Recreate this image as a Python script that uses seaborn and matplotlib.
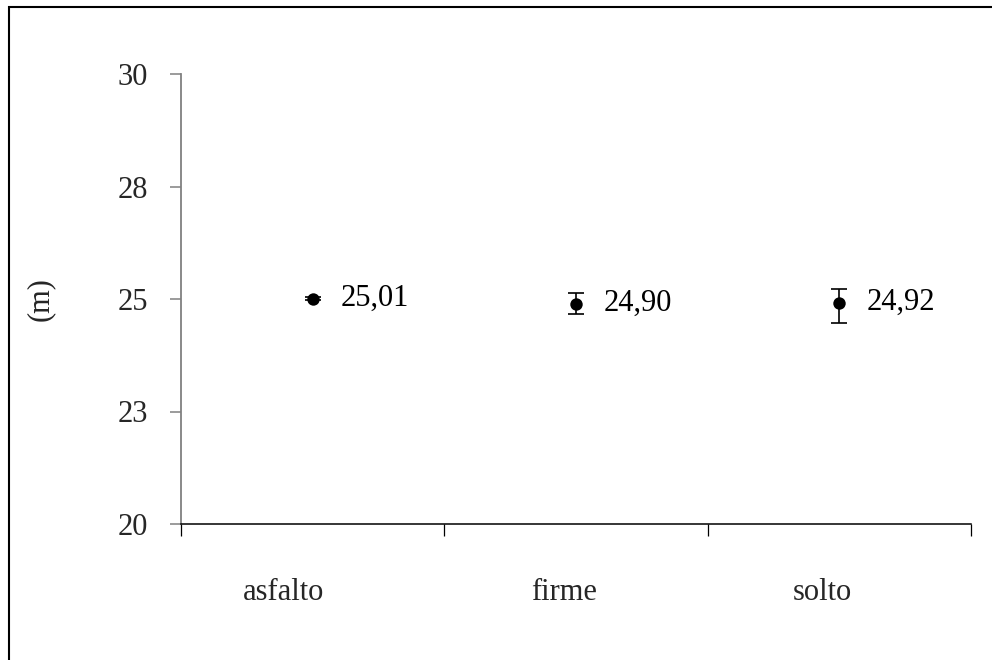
import matplotlib
matplotlib.use("Agg")
import matplotlib.pyplot as plt
import matplotlib.patches as mpatches
import matplotlib.transforms as mtransforms
import numpy as np
import pandas as pd
import seaborn as sns

# Surface types and mean distance (m) with error bar extents
categories = ["asfalto", "firme", "solto"]
means = [25.01, 24.90, 24.92]
err_lower = [0.03, 0.23, 0.45]
err_upper = [0.03, 0.23, 0.30]

# Y axis ticks and their rounded labels
y_ticks = [20, 22.5, 25, 27.5, 30]
y_tick_labels = ["20", "23", "25", "28", "30"]
y_label = "(m)"

FS = 22

sns.set_theme(style="white")
plt.rcParams["font.family"] = ["Liberation Serif", "DejaVu Serif"]

df = pd.DataFrame({"superficie": categories, "distancia": means})

fig = plt.figure(figsize=(9.92, 6.6), dpi=100)
ax = fig.add_axes([181 / 992, 1 - 524 / 660, 790 / 992, 450 / 660])

pos = np.arange(len(categories))
ax.errorbar(pos, means, yerr=[err_lower, err_upper], fmt="none",
            ecolor="black", elinewidth=1.2, capsize=6, capthick=1.2, zorder=2)
sns.scatterplot(data=df, x="superficie", y="distancia", ax=ax,
                color="black", s=80, edgecolor="black", linewidth=0, zorder=3,
                legend=False)

for i, v in enumerate(means):
    ax.annotate(f"{v:.2f}".replace(".", ","), (pos[i], v),
                xytext=(20, 0), textcoords="offset points",
                va="center", ha="left", fontsize=FS, color="black")

ax.set_xlim(-0.5, len(categories) - 0.5)
ax.set_ylim(y_ticks[0], y_ticks[-1])

ax.set_yticks(y_ticks)
ax.set_yticklabels(y_tick_labels, fontsize=FS)
ax.tick_params(axis="y", which="major", direction="out", length=8,
               width=1.1, color="#808080", pad=16, left=True)
ax.yaxis.get_major_ticks()[0].tick1line.set_color("black")

ax.set_xticks(pos)
ax.set_xticklabels(categories, fontsize=FS)
ax.set_xticks(np.arange(len(categories) + 1) - 0.5, minor=True)
ax.tick_params(axis="x", which="major", length=0, pad=39)
ax.tick_params(axis="x", which="minor", direction="out", length=8.6,
               width=0.9, color="black", bottom=True)

# Category labels sit slightly left of their slot centres
label_shift_px = [-29, -12, -17]
for lbl, dx in zip(ax.get_xticklabels(), label_shift_px):
    lbl.set_transform(lbl.get_transform() +
                      mtransforms.ScaledTranslation(dx / 100, 0, fig.dpi_scale_trans))

ax.set_xlabel("")
ax.set_ylabel(y_label, fontsize=FS)
ax.yaxis.set_label_coords(-0.16, 0.5)

for side in ("top", "right"):
    ax.spines[side].set_visible(False)
ax.spines["left"].set_color("#808080")
ax.spines["left"].set_linewidth(1.3)
ax.spines["bottom"].set_color("black")
ax.spines["bottom"].set_linewidth(1.1)

# Outer frame around the chart area
frame = mpatches.Rectangle((8.5 / 992, -0.1), 1.2, 1 - 6.5 / 660 + 0.1,
                           transform=fig.transFigure, fill=False,
                           edgecolor="black", linewidth=1.5, zorder=0)
fig.patches.append(frame)

fig.savefig("out.png", dpi=100, facecolor="white")
